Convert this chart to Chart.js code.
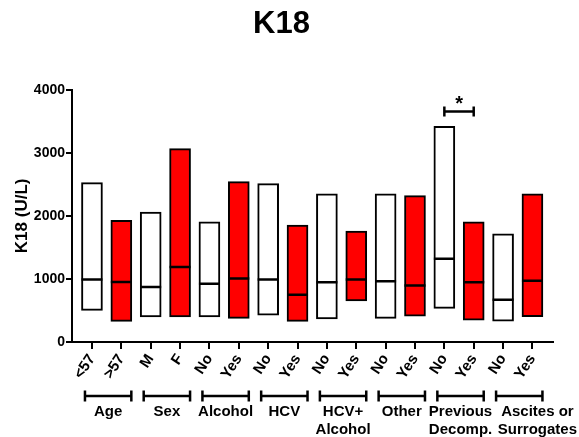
<!DOCTYPE html>
<html>
<head>
<meta charset="utf-8">
<script src="https://cdn.jsdelivr.net/npm/chart.js@4.4.1/dist/chart.umd.min.js"></script>
<style>
    html, body { margin: 0; padding: 0; background: #fff; }
</style>
</head>
<body>
<canvas id="k18-chart" width="579" height="437"></canvas>
<script>
// Values (U/L)
const categories = ['<57', '>57', 'M', 'F', 'No', 'Yes', 'No', 'Yes', 'No', 'Yes', 'No', 'Yes', 'No', 'Yes', 'No', 'Yes'];
const groups = [['Age'], ['Sex'], ['Alcohol'], ['HCV'], ['HCV+', 'Alcohol'], ['Other'], ['Previous', 'Decomp.'], ['Ascites or', 'Surrogates']];
const lowValues = [501, 326, 396, 396, 396, 374, 427, 326, 364, 650, 374, 411, 533, 348, 332, 401];
const highValues = [2526, 1927, 2059, 3067, 1906, 2542, 2510, 1852, 2351, 1757, 2351, 2320, 3421, 1906, 1715, 2351];
const medianValues = [989, 952, 873, 1191, 925, 1005, 989, 750, 946, 989, 962, 894, 1318, 946, 671, 973];
const yTicks = [0, 1000, 2000, 3000, 4000];
const sigPair = [12, 13];
const sigLevel = 3655;
const sigLabel = '*';

const FONT = '"Liberation Sans", Arial, Helvetica, sans-serif';
Chart.defaults.font.family = FONT;
Chart.defaults.color = '#000';

// Group brackets + names under the category ticks
const groupLabels = {
    id: 'groupLabels',
    afterDraw(chart) {
        const { ctx, chartArea } = chart;
        const x = chart.scales.x;
        const yLine = chartArea.bottom + 54;
        ctx.save();
        ctx.strokeStyle = '#000';
        ctx.fillStyle = '#000';
        ctx.lineWidth = 2.5;
        ctx.font = 'bold 15px ' + FONT;
        ctx.textAlign = 'center';
        ctx.textBaseline = 'middle';
        let prevRight = 0;
        groups.forEach((lines, g) => {
            const left = x.getPixelForValue(2 * g) - 7;
            const right = x.getPixelForValue(2 * g + 1) + 10;
            ctx.beginPath();
            ctx.moveTo(left, yLine); ctx.lineTo(right, yLine);
            ctx.moveTo(left, yLine - 5.5); ctx.lineTo(left, yLine + 5.5);
            ctx.moveTo(right, yLine - 5.5); ctx.lineTo(right, yLine + 5.5);
            ctx.stroke();
            // keep names from running into the previous group's name
            const w = Math.max(...lines.map(t => ctx.measureText(t).width));
            let cx = Math.max((left + right) / 2, prevRight + 6 + w / 2);
            cx = Math.min(cx, chart.width - 2 - w / 2);
            prevRight = cx + w / 2;
            lines.forEach((t, k) => ctx.fillText(t, cx, yLine + 16 + k * 18));
        });
        // significance star over the bracket
        const y = chart.scales.y;
        const sx = (x.getPixelForValue(sigPair[0]) + x.getPixelForValue(sigPair[1])) / 2;
        ctx.font = 'bold 20px ' + FONT;
        ctx.textBaseline = 'alphabetic';
        ctx.fillText(sigLabel, sx, y.getPixelForValue(sigLevel) - 1);
        ctx.restore();
    }
};

const fills = categories.map((c, i) => i % 2 ? '#ff0000' : '#ffffff');

new Chart(document.getElementById('k18-chart'), {
    type: 'bar',
    data: {
        datasets: [
            {
                type: 'bar',
                order: 3,
                data: categories.map((c, i) => ({ x: i, y: [lowValues[i], highValues[i]] })),
                backgroundColor: fills,
                borderColor: '#000',
                borderWidth: 2,
                borderSkipped: false,
                barThickness: 21
            },
            {
                type: 'scatter',
                order: 1,
                data: categories.map((c, i) => ({ x: i, y: medianValues[i] })),
                pointStyle: 'line',
                pointRadius: 10.5,
                pointBorderColor: '#000',
                pointBorderWidth: 2.5
            },
            {
                type: 'line',
                order: 2,
                data: sigPair.map(i => ({ x: i, y: sigLevel })),
                borderColor: '#000',
                borderWidth: 2.5,
                pointStyle: 'line',
                pointRotation: 90,
                pointRadius: 5,
                pointBorderColor: '#000',
                pointBorderWidth: 2.5
            }
        ]
    },
    options: {
        responsive: false,
        animation: false,
        layout: { padding: { top: 0, right: 26, bottom: 0, left: 10 } },
        plugins: {
            legend: { display: false },
            tooltip: { enabled: false },
            title: {
                display: true,
                text: 'K18',
                color: '#000',
                font: { size: 31, weight: 'bold' },
                padding: { top: 6, bottom: 46.5 }
            }
        },
        scales: {
            x: {
                type: 'linear',
                min: -0.68,
                max: 15.7,
                offset: false,
                afterFit: s => { s.height = 95; },
                afterBuildTicks: s => { s.ticks = categories.map((c, i) => ({ value: i })); },
                grid: { offset: false, drawOnChartArea: false, drawTicks: true, tickLength: 7, color: '#000', lineWidth: 2 },
                border: { color: '#000', width: 2 },
                ticks: {
                    autoSkip: false,
                    minRotation: 57,
                    maxRotation: 57,
                    padding: 2,
                    color: '#000',
                    font: { size: 15, weight: 'bold' },
                    callback: v => categories[v]
                }
            },
            y: {
                min: 0,
                max: 4000,
                afterFit: s => { s.width = 62; },
                afterBuildTicks: s => { s.ticks = yTicks.map(v => ({ value: v })); },
                grid: { drawOnChartArea: false, drawTicks: true, tickLength: 6, color: '#000', lineWidth: 2 },
                border: { color: '#000', width: 2 },
                ticks: { padding: 1, color: '#000', font: { size: 14, weight: 'bold' }, callback: v => String(v) },
                title: {
                    display: true,
                    text: 'K18 (U/L)',
                    color: '#000',
                    font: { size: 17, weight: 'bold' },
                    padding: { top: 2, bottom: 0 }
                }
            }
        }
    },
    plugins: [groupLabels]
});
</script>
</body>
</html>
